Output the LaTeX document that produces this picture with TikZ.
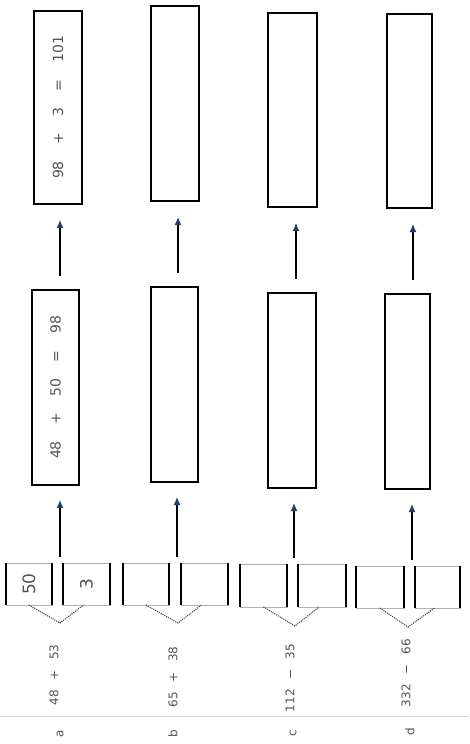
\documentclass[tikz,border=0pt]{standalone}
\usepackage{fontspec}
\setmainfont{DejaVu Sans}
\usetikzlibrary{arrows.meta,fit}
\definecolor{tipblue}{HTML}{1F3F6A}
\definecolor{txt}{gray}{0.33}
\definecolor{chevc}{HTML}{3A4A5E}
\newcommand\gp{\hspace{16.5pt}}
\newcommand\gq{\hspace{10pt}}
\begin{document}
\begin{tikzpicture}[x=1pt,y=-1pt,
  box/.style={draw=black, line width=1.4pt, inner sep=0pt, outer sep=0pt},
  splitbox/.style={draw=black!30, line width=0.6pt, inner sep=0pt, outer sep=0pt},
  side/.style={draw=black, line width=1.5pt},
  arr/.style={draw=black, line width=1.3pt, -{Latex[length=8pt,width=7pt,color=tipblue]}},
  chev/.style={draw=chevc, line width=1.1pt, densely dotted},
  num/.style={text=txt, font=\fontsize{14}{16}\selectfont, rotate=90, inner sep=0pt},
  big/.style={text=txt, font=\fontsize{17}{19}\selectfont, rotate=90, inner sep=0pt},
  expr/.style={text=txt, font=\fontsize{12}{14}\selectfont, rotate=90, inner sep=0pt},
  lab/.style={text=txt, font=\fontsize{12}{14}\selectfont, rotate=90, inner sep=0pt}]
\useasboundingbox (0,0) rectangle (469,744);
\fill[white] (0,0) rectangle (469,744);

% ---------------- column a ----------------
\node[box, fit={(34,11) (82,204)}] (rA) {};
\node[box, fit={(32,290) (79,485)}] (mA) {};
\node[splitbox, fit={(6,563) (52,605)}] (sA1) {};
\node[splitbox, fit={(63,563) (110,605)}] (sA2) {};
\coordinate (xA1) at (60,0);
\coordinate (xA2) at (60,0);
\coordinate (tipA) at (60,623);
\node[num] (tA1) at (rA.center) {98\gp+\gp3\gp=\gp101};
\node[num] (tA2) at (mA.center) {48\gp+\gp50\gp=\gp98};
\node[big] (nA1) at (sA1.center) {50};
\node[big] (nA2) at (sA2.center) {3};
\node[expr] (eA) at (54,675) {48\gq+\gq53};
\node[lab] (lA) at (60,734) {a};

% ---------------- column b ----------------
\node[box, fit={(151,6) (199,201)}] (rB) {};
\node[box, fit={(151,287) (198,482)}] (mB) {};
\node[splitbox, fit={(123,563) (169,605)}] (sB1) {};
\node[splitbox, fit={(181,563) (228,605)}] (sB2) {};
\coordinate (xB1) at (178,0);
\coordinate (xB2) at (177,0);
\coordinate (tipB) at (178,623);
\node[expr] (eB) at (173,677) {65\gq+\gq38};
\node[lab] (lB) at (173,734) {b};

% ---------------- column c ----------------
\node[box, fit={(268,13) (317,207)}] (rC) {};
\node[box, fit={(268,293) (316,488)}] (mC) {};
\node[splitbox, fit={(240,564) (287,607)}] (sC1) {};
\node[splitbox, fit={(298,564) (346,607)}] (sC2) {};
\coordinate (xC1) at (296,0);
\coordinate (xC2) at (294,0);
\coordinate (tipC) at (295,626);
\node[expr] (eC) at (290,678) {112\gq−\gq35};
\node[lab] (lC) at (293,733) {c};

% ---------------- column d ----------------
\node[box, fit={(387,14) (432,208)}] (rD) {};
\node[box, fit={(385,294) (430,489)}] (mD) {};
\node[splitbox, fit={(356,566) (404,608)}] (sD1) {};
\node[splitbox, fit={(415,566) (460,608)}] (sD2) {};
\coordinate (xD1) at (413,0);
\coordinate (xD2) at (412,0);
\coordinate (tipD) at (408,627);
\node[expr] (eD) at (406,673) {332\gq−\gq66};
\node[lab] (lD) at (410,732) {d};

% ---------------- sides of split boxes, chevrons, arrows ----------------
\foreach \c in {A,B,C,D}{
  \draw[side] (s\c1.north west) -- (s\c1.south west) (s\c1.north east) -- (s\c1.south east);
  \draw[side] (s\c2.north west) -- (s\c2.south west) (s\c2.north east) -- (s\c2.south east);
  \draw[chev] (s\c1.south) -- (tip\c) -- ([xshift=-3pt]s\c2.south);
  \draw[arr, shorten <=14pt, shorten >=16pt] (m\c.north -| x\c1) -- (r\c.south -| x\c1);
  \draw[arr, shorten <=6pt, shorten >=15pt] (s\c1.north -| x\c2) -- (m\c.south -| x\c2);
}

% faint rule above the letters
\draw[black!15, line width=0.6pt] (0,716) -- (469,716);
\end{tikzpicture}
\end{document}
